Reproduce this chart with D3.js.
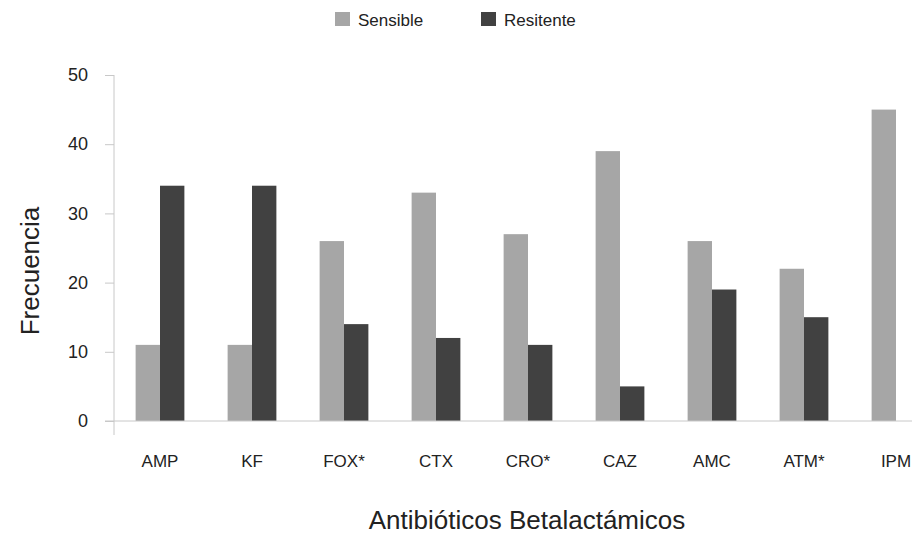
<!DOCTYPE html>
<html>
<head>
	<meta charset="utf-8">
	<title>Antibióticos Betalactámicos</title>
	<script type="text/javascript" src="https://cdnjs.cloudflare.com/ajax/libs/d3/7.8.5/d3.min.js"></script>
	<style>
		body { margin: 0; background: #fff; }
		text { font-family: "Liberation Sans", Arial, sans-serif; fill: #222; }
	</style>
</head>
<body>
	<svg id="chart" width="912" height="535"></svg>
	<script type="text/javascript">
		var categories = ["AMP", "KF", "FOX*", "CTX", "CRO*", "CAZ", "AMC", "ATM*", "IPM"];
		var sensible = [11, 11, 26, 33, 27, 39, 26, 22, 45];
		var resistente = [34, 34, 14, 12, 11, 5, 19, 15, 0];
		var seriesNames = ["Sensible", "Resitente"];
		var yTicks = [0, 10, 20, 30, 40, 50];

		var colors = ["#a6a6a6", "#414141"];
		var svg = d3.select("#chart");

		var plotLeft = 114, plotRight = 942, plotTop = 75, plotBottom = 421;

		var x = d3.scaleBand()
			.domain(categories)
			.range([plotLeft, plotRight])
			.paddingInner(0.47)
			.paddingOuter(0.235);

		var x1 = d3.scaleBand()
			.domain(seriesNames)
			.range([0, x.bandwidth()]);

		var y = d3.scaleLinear()
			.domain([0, 50])
			.range([plotBottom, plotTop]);

		//bars
		var rows = categories.map(function (c, i) {
			return {cat: c, values: [sensible[i], resistente[i]]};
		});

		var groups = svg.selectAll("g.grp")
			.data(rows)
			.enter().append("g")
			.attr("class", "grp")
			.attr("transform", function (d) { return "translate(" + x(d.cat) + ",0)"; });

		groups.selectAll("rect")
			.data(function (d) { return d.values; })
			.enter().append("rect")
			.attr("x", function (d, i) { return x1(seriesNames[i]); })
			.attr("width", x1.bandwidth())
			.attr("y", function (d) { return y(d); })
			.attr("height", function (d) { return y(0) - y(d); })
			.attr("fill", function (d, i) { return colors[i]; });

		//axes
		var yAxis = d3.axisLeft(y)
			.tickValues(yTicks)
			.tickSize(9)
			.tickPadding(17);

		var gy = svg.append("g")
			.attr("transform", "translate(" + plotLeft + ",0)")
			.call(yAxis);
		gy.select(".domain").remove();
		gy.selectAll(".tick line").attr("stroke", "#c8c8c8");
		gy.selectAll(".tick text")
			.style("font-size", "18px")
			.attr("fill", "#222");

		svg.append("line")
			.attr("x1", plotLeft).attr("x2", plotLeft)
			.attr("y1", y(50)).attr("y2", plotBottom + 14)
			.attr("stroke", "#c8c8c8");

		svg.append("line")
			.attr("x1", plotLeft - 9).attr("x2", 912)
			.attr("y1", plotBottom).attr("y2", plotBottom)
			.attr("stroke", "#c8c8c8");

		var xAxis = d3.axisBottom(x).tickSize(0).tickPadding(34);
		var gx = svg.append("g")
			.attr("transform", "translate(0," + plotBottom + ")")
			.call(xAxis);
		gx.select(".domain").remove();
		gx.selectAll(".tick text")
			.style("font-size", "17px")
			.attr("fill", "#222");

		//titles
		svg.append("text")
			.attr("x", 527)
			.attr("y", 529)
			.attr("text-anchor", "middle")
			.style("font-size", "26px")
			.text("Antibióticos Betalactámicos");

		svg.append("text")
			.attr("transform", "translate(39,271) rotate(-90)")
			.attr("text-anchor", "middle")
			.style("font-size", "26px")
			.text("Frecuencia");

		//legend
		var legendX = [335, 481];
		seriesNames.forEach(function (name, i) {
			svg.append("rect")
				.attr("x", legendX[i])
				.attr("y", 12)
				.attr("width", 15)
				.attr("height", 14)
				.attr("fill", colors[i]);
			svg.append("text")
				.attr("x", legendX[i] + 23)
				.attr("y", 26)
				.style("font-size", "17px")
				.text(name);
		});
	</script>
</body>
</html>
